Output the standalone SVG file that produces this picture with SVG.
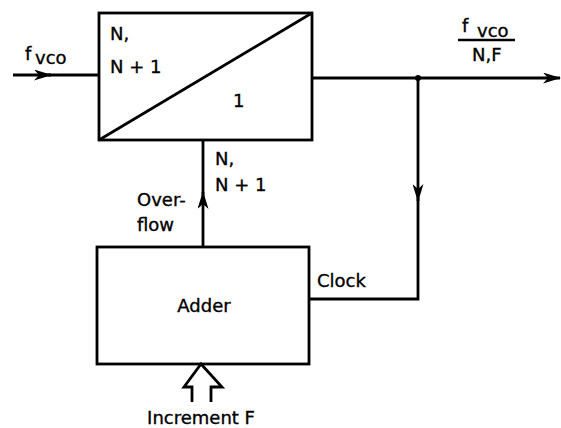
<svg xmlns="http://www.w3.org/2000/svg" width="561" height="428" viewBox="0 0 561 428">
<defs>
<style>
.box{fill:none;stroke:#000;stroke-width:2.8}
.ln{fill:none;stroke:#000;stroke-width:2.8}
text{font-family:"DejaVu Sans","Liberation Sans",sans-serif;font-size:18px;fill:#000;stroke:#000;stroke-width:0.35}
</style>
<marker id="ah" viewBox="0 0 18 11" refX="17" refY="5.5" markerWidth="18" markerHeight="11" markerUnits="userSpaceOnUse" orient="auto">
<path d="M0,0 L18,5.5 L0,11 L5,5.5 z" fill="#000"/>
</marker>
</defs>
<rect width="561" height="428" fill="#fff"/>
<g id="divider">
<rect class="box" x="99" y="13" width="213" height="127"/>
<line class="ln" x1="99" y1="140" x2="312" y2="13"/>
<text x="110" y="40">N,</text>
<text x="110" y="73">N + 1</text>
<text x="233" y="107">1</text>
</g>
<g id="adder">
<rect class="box" x="97" y="247" width="212" height="117"/>
<text x="204" y="312" text-anchor="middle">Adder</text>
</g>
<g id="connectors">
<line class="ln" x1="13" y1="75" x2="51" y2="75" marker-end="url(#ah)"/>
<line class="ln" x1="48" y1="75" x2="99" y2="75"/>
<line class="ln" x1="312" y1="78" x2="560" y2="78" marker-end="url(#ah)"/>
<circle cx="418" cy="78" r="3" fill="#000"/>
<line class="ln" x1="418" y1="78" x2="418" y2="201" marker-end="url(#ah)"/>
<polyline class="ln" points="418,198 418,299 309,299"/>
<line class="ln" x1="203" y1="247" x2="203" y2="192" marker-end="url(#ah)"/>
<line class="ln" x1="203" y1="195" x2="203" y2="140"/>
<polyline class="ln" points="192,402 192,387 184,387 201,364 222,387 211,387 211,402" stroke-width="2.4"/>
</g>
<g id="labels">
<text x="25" y="60">f</text>
<text x="35" y="64">vco</text>
<text x="462" y="32">f</text>
<text x="477" y="37">vco</text>
<line x1="458" y1="40" x2="515" y2="40" stroke="#000" stroke-width="2.4"/>
<text x="472" y="61">N,F</text>
<text x="215" y="165">N,</text>
<text x="215" y="191">N + 1</text>
<text x="137" y="206">Over-</text>
<text x="137" y="231">flow</text>
<text x="317" y="287">Clock</text>
<text x="201" y="424" text-anchor="middle">Increment F</text>
</g>
</svg>
